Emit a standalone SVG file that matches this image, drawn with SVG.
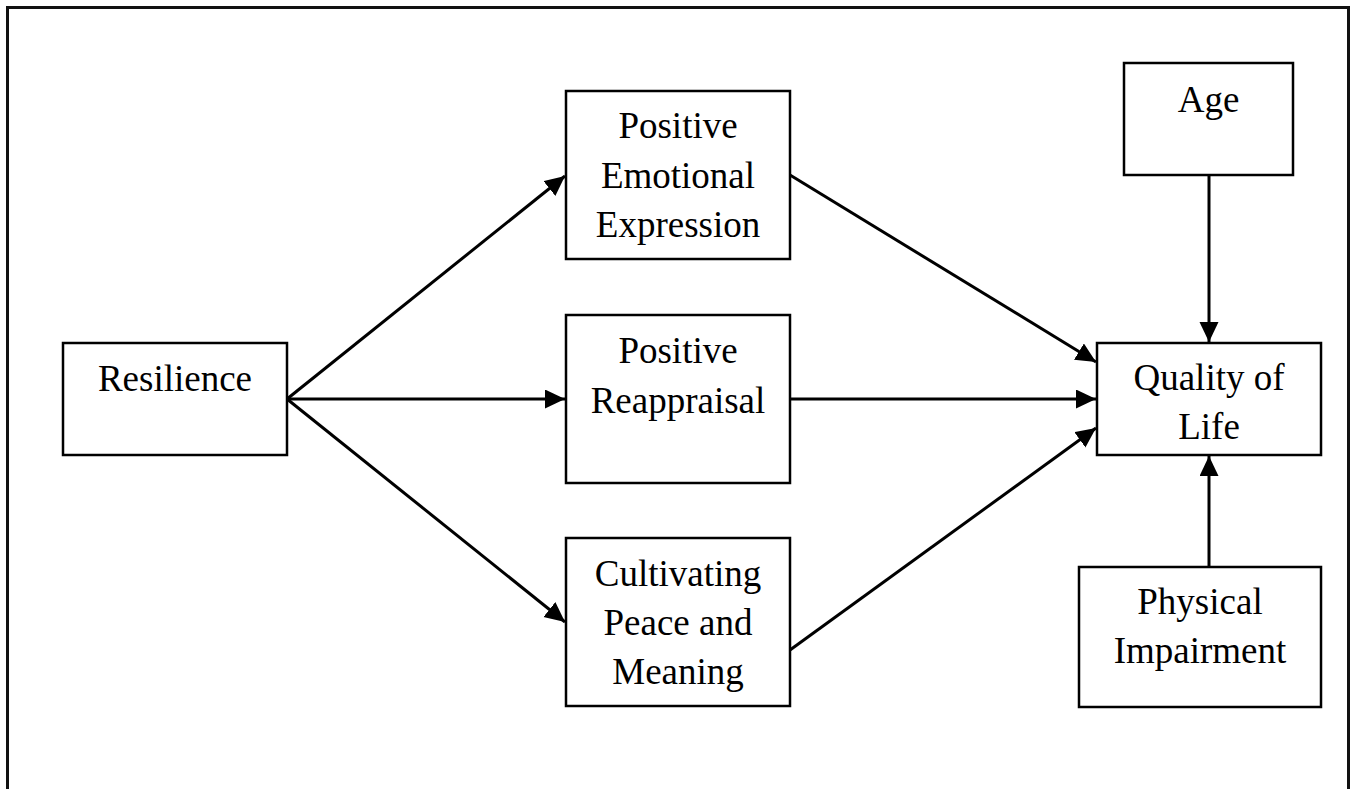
<svg xmlns="http://www.w3.org/2000/svg" width="1357" height="789" viewBox="0 0 1357 789">
<style>
.box{fill:#fff;stroke:#000;stroke-width:2.5}
.lbl{font-family:"Liberation Serif","Times New Roman",serif;font-size:37px;fill:#000;text-anchor:middle}
.con{stroke:#000;stroke-width:3;fill:none;marker-end:url(#arr)}
</style>
<defs>
<marker id="arr" markerUnits="userSpaceOnUse" markerWidth="22" markerHeight="20" refX="20" refY="9.5" orient="auto">
<path d="M0,0 L20,9.5 L0,19 z" fill="#000"/>
</marker>
</defs>
<rect x="0" y="0" width="1357" height="789" fill="#fff"/>
<rect x="7.5" y="7.5" width="1341" height="800" fill="none" stroke="#111" stroke-width="3"/>
<g id="connectors">
<path class="con" d="M287,399 L565,176"/>
<path class="con" d="M287,399 L565,399"/>
<path class="con" d="M287,399 L565,622"/>
<path class="con" d="M790,175 L1096,362"/>
<path class="con" d="M790,399 L1096,399"/>
<path class="con" d="M790,650 L1096,428"/>
<path class="con" d="M1209,175 L1209,342"/>
<path class="con" d="M1209,567 L1209,456"/>
</g>
<g id="resilience">
<rect class="box" x="63" y="343" width="224" height="112"/>
<text class="lbl" x="175" y="391">Resilience</text>
</g>
<g id="pee">
<rect class="box" x="566" y="91" width="224" height="168"/>
<text class="lbl" x="678" y="138">Positive</text>
<text class="lbl" x="678" y="188">Emotional</text>
<text class="lbl" x="678" y="237">Expression</text>
</g>
<g id="pr">
<rect class="box" x="566" y="315" width="224" height="168"/>
<text class="lbl" x="678" y="363">Positive</text>
<text class="lbl" x="678" y="413">Reappraisal</text>
</g>
<g id="cpm">
<rect class="box" x="566" y="538" width="224" height="168"/>
<text class="lbl" x="678" y="586">Cultivating</text>
<text class="lbl" x="678" y="635">Peace and</text>
<text class="lbl" x="678" y="684">Meaning</text>
</g>
<g id="age">
<rect class="box" x="1124" y="63" width="169" height="112"/>
<text class="lbl" x="1208.5" y="112">Age</text>
</g>
<g id="qol">
<rect class="box" x="1097" y="343" width="224" height="112"/>
<text class="lbl" x="1209" y="390">Quality of</text>
<text class="lbl" x="1209" y="439">Life</text>
</g>
<g id="pi">
<rect class="box" x="1079" y="567" width="242" height="140"/>
<text class="lbl" x="1200" y="614">Physical</text>
<text class="lbl" x="1200" y="663">Impairment</text>
</g>
</svg>
